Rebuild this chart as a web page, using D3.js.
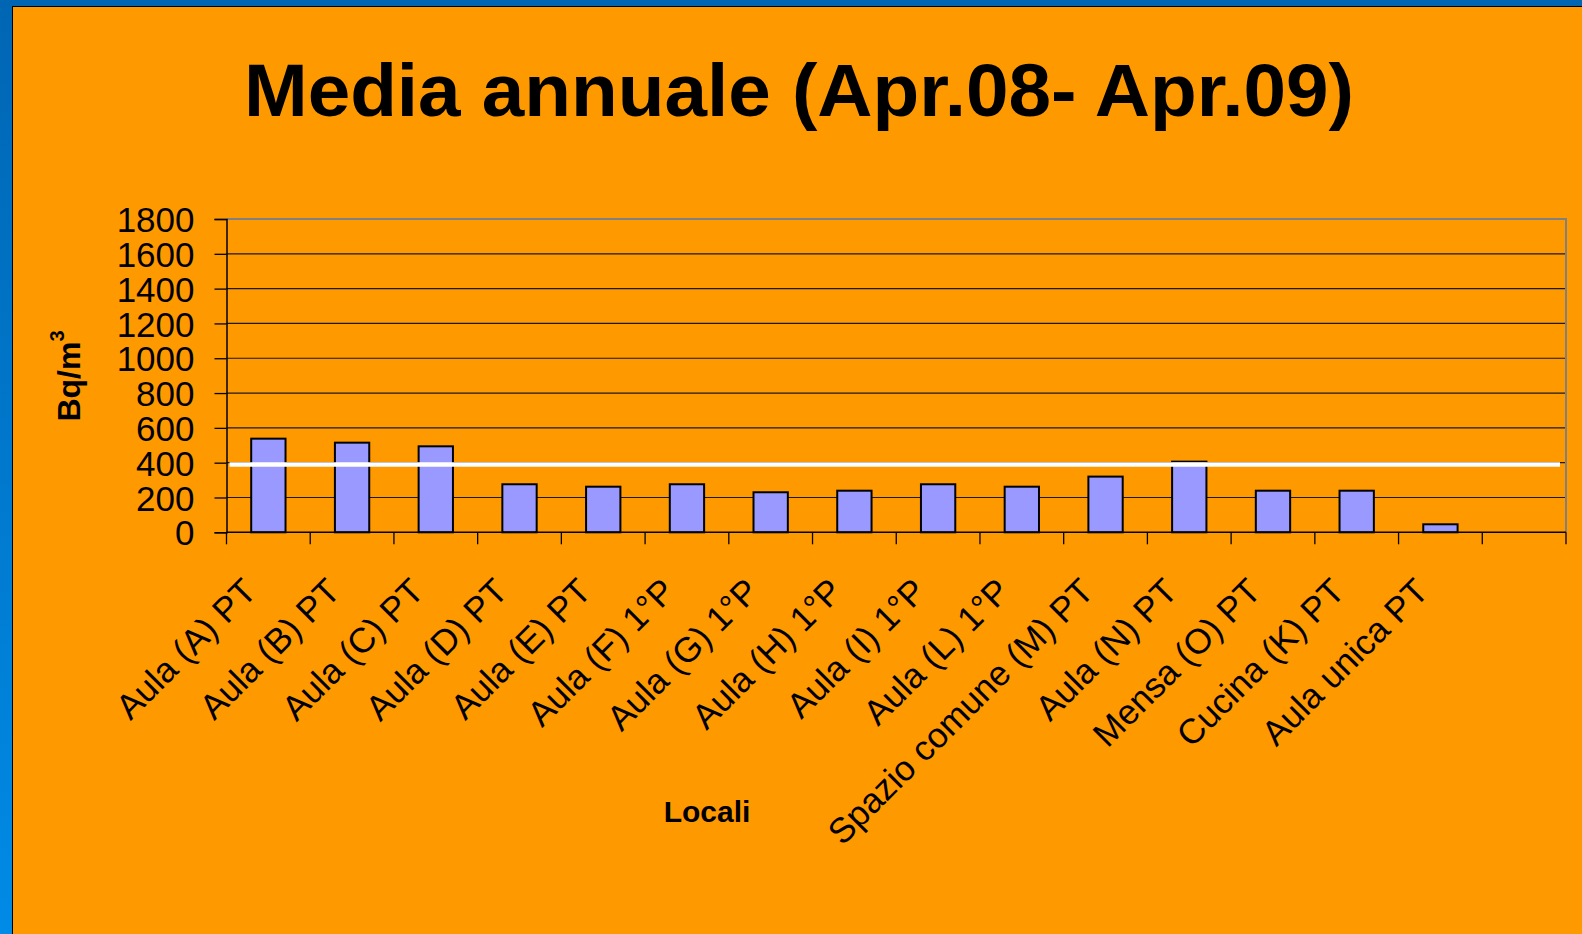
<!DOCTYPE html>
<html>
<head>
<meta charset="utf-8">
<script src="https://cdn.jsdelivr.net/npm/d3@7"></script>
<style>
  html, body { margin: 0; padding: 0; background: #FF9900; overflow: hidden; }
  svg { display: block; }
</style>
</head>
<body>
<svg id="chart" width="1582" height="934"></svg>
<script>
// ---- Data ----
const categories = [
  "Aula (A) PT", "Aula (B) PT", "Aula (C) PT", "Aula (D) PT", "Aula (E) PT",
  "Aula (F) 1°P", "Aula (G) 1°P", "Aula (H) 1°P", "Aula (I) 1°P", "Aula (L) 1°P",
  "Spazio comune (M) PT", "Aula (N) PT", "Mensa (O) PT", "Cucina (K) PT", "Aula unica PT", ""
];
const values = [538, 515, 494, 276, 262, 276, 230, 239, 276, 262, 320, 406, 239, 239, 46, null];
const yTicks = [0, 200, 400, 600, 800, 1000, 1200, 1400, 1600, 1800];
const referenceLevel = [389];
const titleText = "Media annuale (Apr.08- Apr.09)";
const xTitle = "Locali";
const yTitle = "Bq/m";
const yTitleSup = "3";

// ---- Layout ----
const W = 1582, H = 934;
const plot = { left: 226.5, right: 1566, top: 219, bottom: 532.3 };

const svg = d3.select("#chart");

// Background frame
const defs = svg.append("defs");
const grad = defs.append("linearGradient").attr("id", "blueGrad")
  .attr("x1", 0).attr("y1", 0).attr("x2", 0).attr("y2", 1);
grad.append("stop").attr("offset", "0%").attr("stop-color", "#0066B3");
grad.append("stop").attr("offset", "100%").attr("stop-color", "#008BE6");

svg.append("rect").attr("x", 0).attr("y", 0).attr("width", W).attr("height", H).attr("fill", "url(#blueGrad)");
svg.append("rect").attr("x", 0).attr("y", 0).attr("width", W).attr("height", 6).attr("fill", "#0066B3");
svg.append("rect").attr("x", 12.5).attr("y", 6.5).attr("width", W).attr("height", H)
  .attr("fill", "#FF9900").attr("stroke", "#000").attr("stroke-width", 1);

// Title
svg.append("text")
  .attr("x", 799).attr("y", 116)
  .attr("text-anchor", "middle")
  .attr("font-family", "'Liberation Sans', Arial, sans-serif")
  .attr("font-weight", "bold")
  .attr("font-size", 74)
  .attr("textLength", 1110)
  .attr("lengthAdjust", "spacingAndGlyphs")
  .attr("fill", "#000")
  .text(titleText);

// Scales
const x = d3.scaleBand().domain(categories.map((d, i) => i))
  .range([plot.left, plot.right]).paddingInner(0.59).paddingOuter(0.295);
const y = d3.scaleLinear().domain([0, 1800]).range([plot.bottom, plot.top]);

const g = svg.append("g");

// Gridlines
g.selectAll("line.grid").data(yTicks.filter(t => t > 0 && t < 1800)).join("line")
  .attr("class", "grid")
  .attr("x1", plot.left).attr("x2", plot.right)
  .attr("y1", d => y(d)).attr("y2", d => y(d))
  .attr("stroke", "#1a1a1a").attr("stroke-width", 1.2);

// Plot border (top & right gray)
g.append("path")
  .attr("d", `M${plot.left},${y(1800)}H${plot.right}V${plot.bottom}`)
  .attr("fill", "none").attr("stroke", "#808080").attr("stroke-width", 2);

// Bars
g.selectAll("rect.bar").data(values.map((v, i) => ({ v, i })).filter(d => d.v != null)).join("rect")
  .attr("class", "bar")
  .attr("x", d => x(d.i)).attr("width", x.bandwidth())
  .attr("y", d => y(d.v)).attr("height", d => y(0) - y(d.v))
  .attr("fill", "#9999FF").attr("stroke", "#000").attr("stroke-width", 2);

// Reference line (white)
g.selectAll("line.ref").data(referenceLevel).join("line")
  .attr("class", "ref")
  .attr("x1", plot.left + 3).attr("x2", plot.right - 6)
  .attr("y1", d => y(d)).attr("y2", d => y(d))
  .attr("stroke", "#ffffff").attr("stroke-width", 4.5);

// Y axis
const yAxis = d3.axisLeft(y).tickValues(yTicks).tickSize(12).tickPadding(20).tickFormat(d3.format("d"));
const yg = svg.append("g").attr("transform", `translate(${plot.left},0)`).call(yAxis);
yg.select(".domain").attr("stroke", "#000").attr("stroke-width", 1.5);
yg.selectAll(".tick line").attr("stroke", "#000").attr("stroke-width", 1.3);
yg.selectAll(".tick text")
  .attr("font-family", "'Liberation Sans', Arial, sans-serif")
  .attr("font-size", 35).attr("fill", "#000").attr("dy", "0.36em");

// X axis: ticks at band boundaries
const boundaries = d3.range(categories.length + 1).map(i => plot.left + i * x.step());
const xg = svg.append("g");
xg.append("line").attr("x1", plot.left).attr("x2", plot.right)
  .attr("y1", plot.bottom).attr("y2", plot.bottom)
  .attr("stroke", "#000").attr("stroke-width", 1.5);
xg.selectAll("line.xt").data(boundaries).join("line")
  .attr("class", "xt")
  .attr("x1", d => d).attr("x2", d => d)
  .attr("y1", plot.bottom).attr("y2", plot.bottom + 12)
  .attr("stroke", "#000").attr("stroke-width", 1.3);

// X tick labels (rotated)
xg.selectAll("text.xl").data(categories.map((c, i) => ({ c, i })).filter(d => d.c)).join("text")
  .attr("class", "xl")
  .attr("transform", d => `translate(${x(d.i) + x.bandwidth() / 2 - 10},${plot.bottom + 61}) rotate(-45)`)
  .attr("text-anchor", "end")
  .attr("font-family", "'Liberation Sans', Arial, sans-serif")
  .attr("font-size", 35).attr("fill", "#000")
  .text(d => d.c);

// Axis titles
svg.append("text")
  .attr("x", 707).attr("y", 822)
  .attr("text-anchor", "middle")
  .attr("font-family", "'Liberation Sans', Arial, sans-serif")
  .attr("font-weight", "bold").attr("font-size", 30).attr("fill", "#000")
  .text(xTitle);

const yt = svg.append("text")
  .attr("transform", "translate(80,376) rotate(-90)")
  .attr("text-anchor", "middle")
  .attr("font-family", "'Liberation Sans', Arial, sans-serif")
  .attr("font-weight", "bold").attr("font-size", 32).attr("fill", "#000");
yt.append("tspan").text(yTitle);
yt.append("tspan").attr("dy", -16).attr("font-size", 20).text(yTitleSup);
</script>
</body>
</html>
